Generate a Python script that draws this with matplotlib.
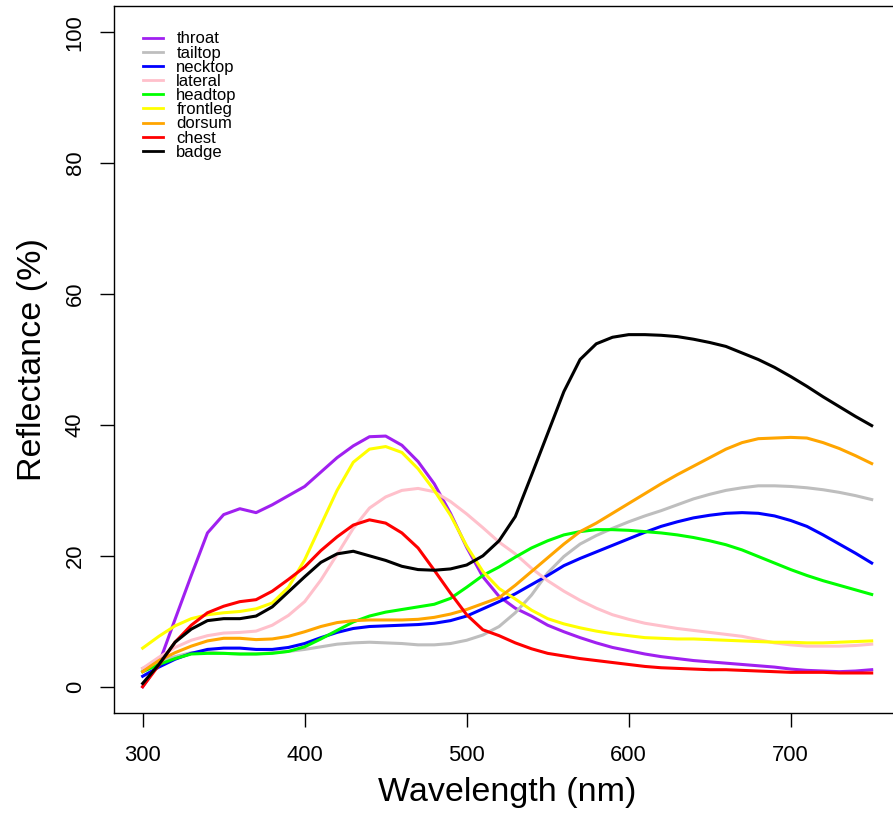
import numpy as np
import matplotlib
matplotlib.use("Agg")
import matplotlib.pyplot as plt

plt.rcParams['font.family'] = ['Liberation Sans', 'DejaVu Sans']

wavelength = np.arange(300, 751, 10)

throat = [0.0, 3.5, 10.3, 17.0, 23.5, 26.3, 27.2, 26.6, 27.8, 29.2,
          30.6, 32.8, 35.0, 36.8, 38.2, 38.3, 36.9, 34.4, 31.0, 26.5,
          21.3, 16.8, 13.8, 12.0, 10.8, 9.4, 8.4, 7.5, 6.7, 6.0,
          5.5, 5.0, 4.6, 4.3, 4.0, 3.8, 3.6, 3.4, 3.2, 3.0,
          2.7, 2.5, 2.4, 2.3, 2.4, 2.6]
tailtop = [2.8, 3.9, 4.6, 5.2, 5.3, 5.1, 5.0, 5.0, 5.2, 5.4,
           5.7, 6.1, 6.5, 6.7, 6.8, 6.7, 6.6, 6.4, 6.4, 6.6,
           7.1, 7.9, 9.2, 11.3, 14.0, 17.4, 19.9, 21.8, 23.1, 24.2,
           25.2, 26.1, 26.9, 27.8, 28.7, 29.4, 30.0, 30.4, 30.7, 30.7,
           30.6, 30.4, 30.1, 29.7, 29.2, 28.6]
necktop = [1.6, 3.0, 4.2, 5.1, 5.7, 5.9, 5.9, 5.7, 5.7, 6.0,
           6.6, 7.5, 8.3, 8.9, 9.2, 9.3, 9.4, 9.5, 9.7, 10.1,
           10.8, 11.9, 13.0, 14.2, 15.6, 17.0, 18.5, 19.6, 20.6, 21.6,
           22.6, 23.6, 24.5, 25.2, 25.8, 26.2, 26.5, 26.6, 26.5, 26.1,
           25.4, 24.5, 23.2, 21.8, 20.4, 18.9]
lateral = [2.8, 4.5, 6.0, 7.1, 7.8, 8.2, 8.3, 8.5, 9.4, 10.9,
           13.0, 16.3, 20.2, 24.2, 27.3, 29.0, 30.0, 30.3, 29.8, 28.3,
           26.4, 24.3, 22.1, 20.3, 18.1, 16.2, 14.6, 13.2, 12.0, 11.0,
           10.3, 9.7, 9.3, 8.9, 8.6, 8.3, 8.0, 7.7, 7.2, 6.7,
           6.4, 6.2, 6.2, 6.2, 6.3, 6.5]
headtop = [2.3, 3.4, 4.3, 5.0, 5.1, 5.1, 5.0, 5.0, 5.1, 5.4,
           6.1, 7.3, 8.6, 9.9, 10.8, 11.4, 11.8, 12.2, 12.6, 13.5,
           15.2, 17.0, 18.3, 19.8, 21.2, 22.3, 23.2, 23.7, 24.0, 24.0,
           23.9, 23.7, 23.5, 23.2, 22.8, 22.3, 21.7, 20.9, 19.9, 18.9,
           17.9, 17.0, 16.2, 15.5, 14.8, 14.1]
frontleg = [5.9, 7.7, 9.3, 10.4, 11.0, 11.3, 11.5, 11.9, 12.8, 15.2,
            19.4, 24.7, 30.0, 34.3, 36.3, 36.7, 35.8, 33.3, 30.0, 26.2,
            21.5, 17.6, 15.0, 13.4, 11.7, 10.4, 9.6, 9.0, 8.5, 8.1,
            7.8, 7.5, 7.4, 7.3, 7.3, 7.2, 7.1, 7.0, 6.9, 6.8,
            6.8, 6.7, 6.7, 6.8, 6.9, 7.0]
dorsum = [2.3, 4.0, 5.2, 6.2, 7.0, 7.4, 7.4, 7.2, 7.3, 7.7,
          8.4, 9.2, 9.8, 10.1, 10.2, 10.2, 10.2, 10.3, 10.6, 11.1,
          11.8, 12.7, 13.6, 15.5, 17.6, 19.7, 21.8, 23.7, 25.0, 26.5,
          28.0, 29.5, 31.0, 32.4, 33.7, 35.0, 36.3, 37.3, 37.9, 38.0,
          38.1, 38.0, 37.3, 36.4, 35.3, 34.1]
chest = [0.0, 3.3, 6.8, 9.4, 11.3, 12.3, 13.0, 13.3, 14.6, 16.4,
         18.3, 20.8, 22.9, 24.7, 25.5, 25.0, 23.5, 21.2, 17.8, 14.3,
         11.0, 8.7, 7.8, 6.7, 5.8, 5.1, 4.7, 4.3, 4.0, 3.7,
         3.4, 3.1, 2.9, 2.8, 2.7, 2.6, 2.6, 2.5, 2.4, 2.3,
         2.2, 2.2, 2.2, 2.1, 2.1, 2.1]
badge = [0.5, 3.4, 6.8, 8.8, 10.1, 10.4, 10.4, 10.8, 12.2, 14.5,
         16.8, 19.0, 20.3, 20.7, 20.0, 19.3, 18.4, 17.9, 17.8, 18.0,
         18.6, 20.0, 22.3, 26.0, 32.3, 38.7, 45.1, 50.0, 52.4, 53.4,
         53.8, 53.8, 53.7, 53.5, 53.1, 52.6, 52.0, 51.0, 50.0, 48.8,
         47.4, 45.9, 44.3, 42.8, 41.3, 39.9]

names = ["throat", "tailtop", "necktop", "lateral", "headtop",
         "frontleg", "dorsum", "chest", "badge"]
series = [throat, tailtop, necktop, lateral, headtop,
          frontleg, dorsum, chest, badge]
colors = ["#A020F0", "#BEBEBE", "#0000FF", "#FFC0CB", "#00FF00",
          "#FFFF00", "#FFA500", "#FF0000", "#000000"]

x_ticks = [300, 400, 500, 600, 700]
y_ticks = [0, 20, 40, 60, 80, 100]

fig = plt.figure(figsize=(8.93, 8.14), dpi=100)
ax = fig.add_axes([0.1271, 0.1242, 0.8817, 0.8683])

for name, vals, col in zip(names, series, colors):
    ax.plot(wavelength, vals, color=col, lw=2.2, label=name)

ax.set_xlim(282, 768)
ax.set_ylim(-4, 104)
ax.set_xticks(x_ticks)
ax.set_yticks(y_ticks)
ax.tick_params(axis='both', direction='out', length=10, width=1.0,
               labelsize=15.8, color='black')
ax.tick_params(axis='x', pad=13)
ax.tick_params(axis='y', pad=10)
for lab in ax.get_yticklabels():
    lab.set_rotation(90)
    lab.set_va('center')
for sp in ax.spines.values():
    sp.set_linewidth(1.0)

ax.set_xlabel("Wavelength (nm)", fontsize=24.5, labelpad=8)
ax.set_ylabel("Reflectance (%)", fontsize=24.5, labelpad=12)

leg = ax.legend(loc='upper left', bbox_to_anchor=(0.0375, 0.9643),
                frameon=False, fontsize=12, handlelength=1.2,
                handletextpad=0.8, labelspacing=-0.05, borderpad=0,
                borderaxespad=0)
for h in leg.get_lines():
    h.set_linewidth(2.0)

fig.savefig("out.png", dpi=100)
